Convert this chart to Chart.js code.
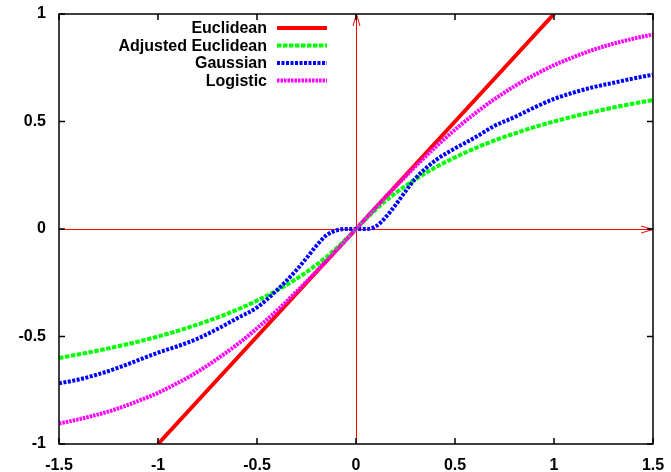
<!DOCTYPE html>
<html>
<head>
<meta charset="utf-8">
<script src="https://cdn.jsdelivr.net/npm/chart.js@4.4.1/dist/chart.umd.min.js"></script>
<style>
  html, body { margin: 0; padding: 0; background: #fff; }
  #wrap { width: 671px; height: 472px; }
</style>
</head>
<body>
<div id="wrap"><canvas id="myChart" width="671" height="472"></canvas></div>
<script>
// values
const seriesNames = ["Euclidean", "Adjusted Euclidean", "Gaussian", "Logistic"];

const euclidX = [-1, -0.5, 0, 0.5, 1];
const euclidY = [-1, -0.5, 0, 0.5, 1];

const gridX = [-1.5, -1.4, -1.3, -1.2, -1.1, -1.0, -0.9, -0.8, -0.7, -0.6, -0.5, -0.4, -0.3, -0.2, -0.1,
  0, 0.1, 0.2, 0.3, 0.4, 0.5, 0.6, 0.7, 0.8, 0.9, 1.0, 1.1, 1.2, 1.3, 1.4, 1.5];
const adjustedY = [-0.6, -0.583, -0.565, -0.545, -0.524, -0.5, -0.474, -0.444, -0.412, -0.375, -0.333, -0.286, -0.231, -0.167, -0.091,
  0, 0.091, 0.167, 0.231, 0.286, 0.333, 0.375, 0.412, 0.444, 0.474, 0.5, 0.524, 0.545, 0.565, 0.583, 0.6];
const logisticY = [-0.905, -0.885, -0.862, -0.834, -0.8, -0.762, -0.716, -0.664, -0.604, -0.537, -0.462, -0.38, -0.291, -0.197, -0.1,
  0, 0.1, 0.197, 0.291, 0.38, 0.462, 0.537, 0.604, 0.664, 0.716, 0.762, 0.8, 0.834, 0.862, 0.885, 0.905];

const gaussX = [-1.5, -1.4, -1.3, -1.2, -1.1, -1.0, -0.9, -0.8, -0.7, -0.6, -0.5, -0.4, -0.3, -0.25, -0.2, -0.15, -0.1, -0.05,
  0, 0.05, 0.1, 0.15, 0.2, 0.25, 0.3, 0.4, 0.5, 0.6, 0.7, 0.8, 0.9, 1.0, 1.1, 1.2, 1.3, 1.4, 1.5];
const gaussY = [-0.718, -0.7, -0.675, -0.645, -0.61, -0.575, -0.545, -0.51, -0.465, -0.415, -0.365, -0.285, -0.19, -0.135, -0.078, -0.03, -0.007, 0,
  0, 0, 0.012, 0.055, 0.112, 0.175, 0.235, 0.318, 0.375, 0.425, 0.48, 0.52, 0.565, 0.605, 0.635, 0.66, 0.68, 0.7, 0.718];

const xTicks = [-1.5, -1, -0.5, 0, 0.5, 1, 1.5];
const yTicks = [-1, -0.5, 0, 0.5, 1];

function pts(xs, ys) {
  return xs.map((x, i) => ({ x: x, y: ys[i] }));
}

const labelFont = { family: "'Liberation Sans', Arial, Helvetica, sans-serif", size: 16, weight: "bold" };

// gnuplot style frame: zero axes with arrows, border, inward ticks, key
const gnuFrame = {
  id: "gnuFrame",
  beforeDatasetsDraw(chart) {
    const ctx = chart.ctx;
    const a = chart.chartArea;
    const x0 = Math.round(chart.scales.x.getPixelForValue(0)) + 0.5;
    const y0 = Math.round(chart.scales.y.getPixelForValue(0)) + 0.5;
    ctx.save();
    ctx.strokeStyle = "#ff0000";
    ctx.lineWidth = 1;
    ctx.beginPath();
    ctx.moveTo(x0, a.bottom);
    ctx.lineTo(x0, a.top);
    ctx.moveTo(a.left, y0);
    ctx.lineTo(a.right, y0);
    // arrow heads
    ctx.moveTo(x0 - 3.5, a.top + 12);
    ctx.lineTo(x0, a.top);
    ctx.lineTo(x0 + 3.5, a.top + 12);
    ctx.moveTo(a.right - 12, y0 - 3.5);
    ctx.lineTo(a.right, y0);
    ctx.lineTo(a.right - 12, y0 + 3.5);
    ctx.stroke();
    ctx.restore();
  },
  afterDatasetsDraw(chart) {
    const ctx = chart.ctx;
    const a = chart.chartArea;
    const sx = chart.scales.x, sy = chart.scales.y;
    ctx.save();
    ctx.strokeStyle = "#000";
    ctx.lineWidth = 1.5;
    ctx.strokeRect(a.left, a.top, a.right - a.left, a.bottom - a.top);
    ctx.beginPath();
    xTicks.forEach((v) => {
      const p = sx.getPixelForValue(v);
      ctx.moveTo(p, a.bottom); ctx.lineTo(p, a.bottom - 6);
      ctx.moveTo(p, a.top); ctx.lineTo(p, a.top + 6);
    });
    yTicks.forEach((v) => {
      const p = sy.getPixelForValue(v);
      ctx.moveTo(a.left, p); ctx.lineTo(a.left + 6, p);
      ctx.moveTo(a.right, p); ctx.lineTo(a.right - 6, p);
    });
    ctx.stroke();

    // key
    ctx.font = "bold 16px 'Liberation Sans', Arial, Helvetica, sans-serif";
    ctx.textAlign = "right";
    ctx.textBaseline = "middle";
    chart.data.datasets.forEach((ds, i) => {
      const y = 28 + i * 17.5;
      ctx.fillStyle = "#000";
      ctx.fillText(ds.label, 267, y + 1);
      ctx.strokeStyle = ds.borderColor;
      ctx.lineWidth = ds.borderWidth;
      ctx.lineCap = "butt";
      ctx.setLineDash(ds.borderDash || []);
      ctx.beginPath();
      ctx.moveTo(277, y);
      ctx.lineTo(327, y);
      ctx.stroke();
      ctx.setLineDash([]);
    });
    ctx.restore();
  }
};

function initChart(target) {
  const data = {
    datasets: [
      {
        label: seriesNames[0],
        data: pts(euclidX, euclidY),
        borderColor: "#ff0000",
        borderWidth: 4,
        order: 4
      },
      {
        label: seriesNames[1],
        data: pts(gridX, adjustedY),
        borderColor: "#00ff00",
        borderWidth: 4,
        borderDash: [4.5, 1.5],
        order: 3
      },
      {
        label: seriesNames[2],
        data: pts(gaussX, gaussY),
        borderColor: "#0000ff",
        borderWidth: 4,
        borderDash: [3, 1.5],
        order: 2
      },
      {
        label: seriesNames[3],
        data: pts(gridX, logisticY),
        borderColor: "#ff00ff",
        borderWidth: 4,
        borderDash: [2.5, 1],
        order: 1
      }
    ]
  };

  const config = {
    type: "line",
    data: data,
    options: {
      responsive: false,
      animation: false,
      events: [],
      elements: {
        point: { radius: 0 },
        line: { cubicInterpolationMode: "monotone", borderCapStyle: "butt", fill: false }
      },
      layout: { padding: { left: 0, right: 18, top: 14, bottom: 0 } },
      plugins: { legend: { display: false }, tooltip: { enabled: false } },
      scales: {
        x: {
          type: "linear",
          min: -1.5,
          max: 1.5,
          grid: { display: false, drawTicks: false },
          border: { display: false },
          afterBuildTicks: (s) => { s.ticks = xTicks.map((v) => ({ value: v })); },
          afterFit: (s) => { s.height = 28; s.paddingLeft = 0; s.paddingRight = 0; },
          ticks: { color: "#000", font: labelFont, padding: 12, maxRotation: 0, autoSkip: false, callback: (v) => String(v) }
        },
        y: {
          type: "linear",
          min: -1,
          max: 1,
          grid: { display: false, drawTicks: false },
          border: { display: false },
          afterBuildTicks: (s) => { s.ticks = yTicks.map((v) => ({ value: v })); },
          afterFit: (s) => { s.width = 59; s.paddingTop = 0; s.paddingBottom = 0; },
          ticks: { color: "#000", font: labelFont, padding: 13, autoSkip: false, callback: (v) => String(v) }
        }
      }
    },
    plugins: [gnuFrame]
  };
  return new Chart(target, config);
}

document.addEventListener("DOMContentLoaded", () => {
  initChart(document.querySelector("#myChart"));
});
</script>
</body>
</html>
